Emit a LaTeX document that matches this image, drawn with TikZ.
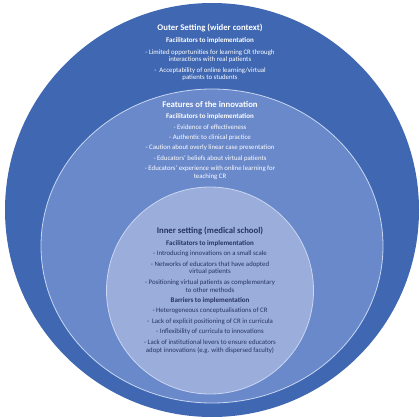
\documentclass[tikz,border=0pt]{standalone}
\usepackage{fontspec}
\setmainfont{Carlito}
\definecolor{outerblue}{RGB}{64,104,178}
\definecolor{midblue}{RGB}{106,137,203}
\definecolor{innerblue}{RGB}{155,173,218}
\definecolor{rimline}{RGB}{200,214,242}
\definecolor{navytext}{RGB}{38,52,98}
\begin{document}
\begin{tikzpicture}[x=1pt,y=-1pt,
  title/.style={font=\bfseries\fontsize{8.7}{9}\selectfont, inner sep=0pt, anchor=center},
  subhead/.style={font=\bfseries\fontsize{7.0}{7.5}\selectfont, inner sep=0pt, anchor=center},
  item/.style={font=\fontsize{6.8}{7.5}\selectfont, inner sep=0pt, align=center, anchor=center},
  outertxt/.style={text=white},
  innertxt/.style={text=navytext}]
\useasboundingbox (0,0) rectangle (420,420);
\fill[white] (0,0) rectangle (420,420);
% circles
\fill[outerblue] (212,210) circle[radius=207];
\filldraw[fill=midblue, draw=rimline, line width=0.8pt] (212,246) ellipse[x radius=171, y radius=157];
\filldraw[fill=innerblue, draw=rimline, line width=0.8pt] (210,290.5) circle[radius=103.5];
% outer setting
\node[title,outertxt] (o0) at (210,28.3) {Outer Setting (wider context)};
\node[subhead,outertxt] (o1) at (210,41) {Facilitators to implementation};
\node[item,outertxt] (o2) at (210,56) {- Limited opportunities for learning CR through\\interactions with real patients};
\node[item,outertxt] (o3) at (210,74) {-\ \ Acceptability of online learning/virtual\\patients to students};
% features of innovation
\node[title,outertxt] (f0) at (210,104.3) {Features of the innovation};
\node[subhead,outertxt] (f1) at (210,116.7) {Facilitators to implementation};
\node[item,outertxt] (f2) at (210,127) {- Evidence of effectiveness};
\node[item,outertxt] (f3) at (210,137.3) {- Authentic to clinical practice};
\node[item,outertxt] (f4) at (210,148) {- Caution about overly linear case presentation};
\node[item,outertxt] (f5) at (210,158.7) {- Educators’ beliefs about virtual patients};
\node[item,outertxt] (f6) at (210,172.8) {- Educators’ experience with online learning for\\teaching CR};
% inner setting
\node[title,innertxt] (i0) at (210,230.7) {Inner setting (medical school)};
\node[subhead,innertxt] (i1) at (210,243.3) {Facilitators to implementation};
\node[item,innertxt] (i2) at (210,254) {- Introducing innovations on a small scale};
\node[item,innertxt] (i3) at (210,268.2) {- Networks of educators that have adopted\\virtual patients};
\node[item,innertxt] (i4) at (210,286.3) {- Positioning virtual patients as complementary\\to other methods};
\node[subhead,innertxt] (i5) at (210,300.7) {Barriers to implementation};
\node[item,innertxt] (i6) at (210,311) {- Heterogeneous conceptualisations of CR};
\node[item,innertxt] (i7) at (210,321.7) {-\ \ Lack of explicit positioning of CR in curricula};
\node[item,innertxt] (i8) at (210,332) {- Inflexibility of curricula to innovations};
\node[item,innertxt] (i9) at (210,346.5) {- Lack of institutional levers to ensure educators\\adopt innovations (e.g. with dispersed faculty)};
\end{tikzpicture}
\end{document}
